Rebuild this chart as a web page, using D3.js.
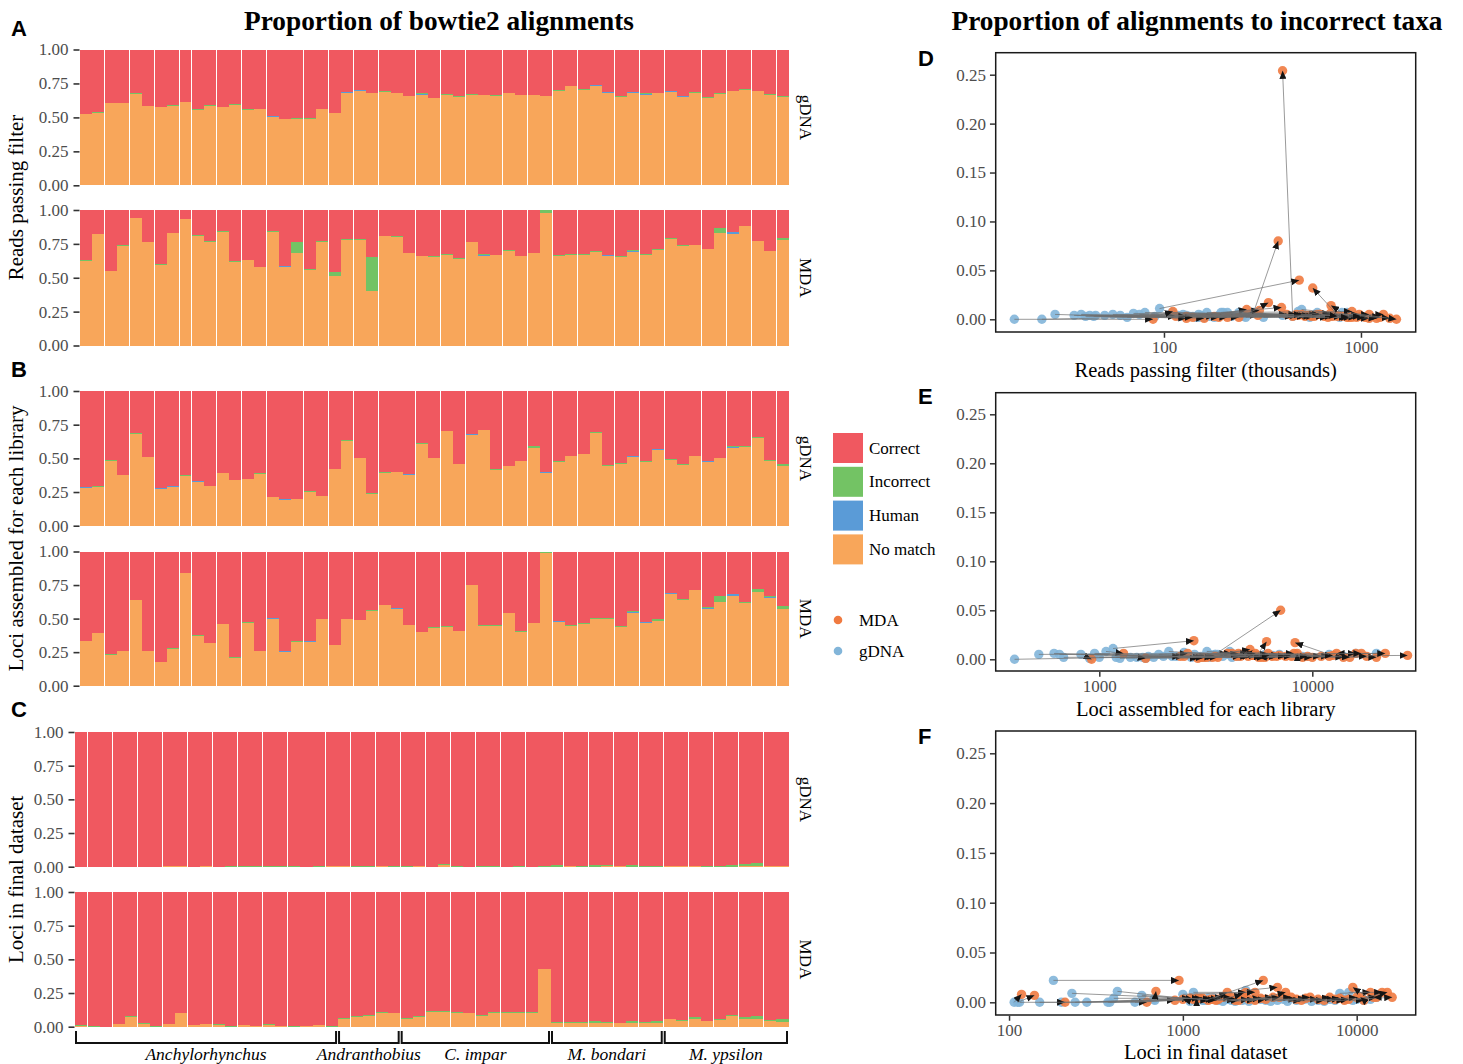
<!DOCTYPE html>
<html><head><meta charset="utf-8">
<script src="https://cdn.jsdelivr.net/npm/d3@7"></script>
<style>
body{margin:0;background:#fff}
svg text{font-family:"Liberation Serif","Times New Roman",serif}
</style>
</head><body>
<svg id="c" width="1463" height="1064"></svg>
<script>
// ---------- categories ----------
const genera = ["Anchylorhynchus","Andranthobius","C. impar","M. bondari","M. ypsilon"];
const generaCounts = [21,5,12,9,10];
const fillKeys = ["nomatch","human","incorrect","correct"];
const fillLabels = ["Correct","Incorrect","Human","No match"];
const yTickValues = [0,0.25,0.5,0.75,1];
const scatterYTicks = [0,0.05,0.10,0.15,0.20,0.25];

// ---------- A: reads passing filter ----------
const aGdnaNoMatch = [0.525,0.532,0.605,0.605,0.672,0.583,0.576,0.586,0.613,0.556,
 0.586,0.576,0.590,0.554,0.561,0.502,0.488,0.488,0.488,0.561,
 0.532,0.679,0.694,0.679,0.686,0.679,0.657,0.664,0.642,0.664,
 0.650,0.664,0.664,0.657,0.679,0.664,0.664,0.657,0.694,0.730,
 0.700,0.730,0.679,0.650,0.679,0.664,0.679,0.686,0.650,0.679,
 0.642,0.672,0.694,0.700,0.694,0.664,0.650];
const aGdnaHuman = [0,0,0,0,0,0,0,0,0,0,
 0,0,0,0,0,0.008,0,0,0,0,
 0,0.007,0.007,0,0,0,0,0.008,0,0,
 0,0,0,0,0,0,0,0,0,0,
 0,0.007,0.007,0,0.007,0.010,0,0.007,0.007,0,
 0,0,0,0,0,0,0];
const aGdnaIncorrect = [0.002,0.005,0.004,0.003,0.005,0,0,0.004,0.004,0.005,
 0.004,0.003,0.006,0.005,0.004,0.002,0.003,0.007,0.007,0.004,
 0.002,0.003,0.002,0.003,0.007,0.003,0.003,0.004,0.002,0.007,
 0.005,0.007,0.004,0.005,0.003,0.002,0.004,0.003,0.007,0.003,
 0.007,0.004,0.003,0.007,0.002,0.004,0.003,0.002,0.004,0.010,
 0.007,0.011,0.003,0.007,0.002,0.008,0.007];
const aMdaNoMatch = [0.620,0.820,0.550,0.735,0.940,0.765,0.595,0.830,0.930,0.810,
 0.765,0.840,0.615,0.630,0.580,0.840,0.578,0.683,0.560,0.765,
 0.513,0.780,0.775,0.400,0.805,0.800,0.680,0.660,0.655,0.670,
 0.640,0.765,0.660,0.665,0.700,0.660,0.680,0.980,0.660,0.670,
 0.665,0.690,0.660,0.655,0.690,0.670,0.705,0.785,0.735,0.740,
 0.710,0.830,0.825,0.880,0.770,0.695,0.780];
const aMdaHuman = [0,0,0,0,0,0,0,0,0,0,
 0,0,0,0,0,0,0.009,0,0,0,
 0,0,0.005,0,0,0,0,0,0,0,
 0,0,0.005,0,0,0,0,0,0,0,
 0,0,0.005,0,0.010,0,0,0,0,0,
 0,0,0.010,0,0,0,0];
const aMdaIncorrect = [0.010,0.003,0.002,0.004,0.001,0,0.003,0.002,0.001,0.004,
 0.003,0.002,0.005,0.004,0.003,0.006,0.002,0.080,0.005,0.003,
 0.032,0.005,0.004,0.254,0.003,0.008,0.002,0.001,0.003,0.002,
 0.004,0.001,0.009,0.003,0.002,0.004,0.002,0.017,0.005,0.003,
 0.012,0.005,0.002,0.008,0.005,0.003,0.005,0.005,0.005,0.002,
 0.001,0.040,0.003,0,0.002,0.003,0.014];

// ---------- B: loci assembled ----------
const bGdnaNoMatch = [0.280,0.290,0.480,0.375,0.680,0.510,0.270,0.285,0.370,0.325,
 0.295,0.390,0.340,0.345,0.385,0.210,0.190,0.195,0.250,0.220,
 0.420,0.630,0.500,0.235,0.390,0.395,0.375,0.610,0.500,0.700,
 0.455,0.670,0.710,0.415,0.440,0.480,0.580,0.390,0.470,0.515,
 0.530,0.685,0.445,0.460,0.510,0.475,0.560,0.485,0.450,0.515,
 0.470,0.500,0.575,0.585,0.650,0.480,0.440];
const bGdnaHuman = [0.008,0,0,0,0,0,0.008,0.008,0,0.006,
 0,0,0,0,0,0,0.007,0,0,0,
 0,0,0,0,0,0,0.009,0,0,0,
 0,0.009,0,0,0,0,0,0.009,0,0,
 0,0.006,0,0,0.006,0,0.006,0.005,0,0,
 0.008,0,0.009,0,0,0,0.005];
const bGdnaIncorrect = [0.002,0.006,0.008,0.002,0.005,0.003,0.001,0.002,0.003,0.002,
 0.001,0.003,0.002,0.001,0.005,0.005,0,0.005,0.005,0.002,
 0.003,0.004,0.002,0.006,0.007,0.003,0.002,0.004,0.005,0.003,
 0.002,0.004,0.003,0.005,0.002,0.003,0.008,0.002,0.008,0.003,
 0.002,0.004,0.005,0.005,0.003,0.005,0.004,0.003,0.008,0.005,
 0.005,0.005,0.006,0.006,0.005,0.005,0.011];
const bMdaNoMatch = [0.330,0.390,0.230,0.260,0.635,0.260,0.180,0.275,0.840,0.370,
 0.315,0.460,0.210,0.470,0.255,0.495,0.250,0.325,0.325,0.495,
 0.300,0.495,0.490,0.560,0.600,0.570,0.450,0.400,0.430,0.440,
 0.405,0.750,0.445,0.445,0.540,0.400,0.465,0.990,0.475,0.445,
 0.460,0.500,0.500,0.435,0.545,0.465,0.480,0.685,0.635,0.710,
 0.575,0.620,0.670,0.615,0.700,0.650,0.575];
const bMdaHuman = [0,0,0,0,0,0,0,0,0,0,
 0,0,0,0,0,0.007,0.008,0,0.006,0,
 0,0,0,0,0,0.007,0,0,0,0,
 0,0,0,0,0,0,0,0,0.006,0,
 0,0,0,0,0.006,0.009,0,0.006,0.006,0,
 0.006,0,0.010,0,0,0.010,0];
const bMdaIncorrect = [0.003,0.002,0.006,0.001,0.003,0.002,0,0.003,0.002,0.006,
 0.002,0.003,0.001,0.004,0.006,0.002,0.003,0.006,0.002,0.003,
 0.002,0.004,0.003,0.002,0.003,0.002,0.004,0.003,0.006,0.002,
 0.003,0.002,0.006,0.004,0.003,0.006,0.002,0.004,0.003,0.006,
 0.006,0.006,0.006,0.010,0.003,0.004,0.018,0.003,0.002,0.006,
 0.004,0.050,0.006,0.006,0.017,0.006,0.019];

// ---------- C: loci in final dataset ----------
const cGdnaNoMatch = [0,0,0,0,0,0,0,0.004,0.004,0,
 0.004,0,0,0,0,0,0,0,0,0,
 0.004,0.004,0,0,0.004,0,0,0.004,0,0.015,
 0,0,0,0,0,0,0,0,0,0.004,
 0,0,0.004,0.004,0,0,0,0.004,0.004,0.004,
 0,0,0,0.005,0.005,0.005,0.005];
const cGdnaHuman = [0,0,0,0,0,0,0,0,0,0,
 0,0,0,0,0,0,0,0,0,0,
 0,0,0,0,0,0,0,0,0,0,
 0,0,0,0,0,0,0,0,0,0,
 0,0,0,0,0,0,0,0,0,0,
 0,0,0,0,0,0,0];
const cGdnaIncorrect = [0,0,0,0,0,0,0,0,0,0,
 0.003,0.001,0.003,0.002,0.004,0.004,0.004,0.002,0.001,0.003,
 0.002,0.001,0.003,0.002,0.001,0.003,0.003,0.002,0.001,0.002,
 0.003,0.001,0.002,0.003,0.001,0.002,0.001,0.003,0.011,0.002,
 0.004,0.009,0.009,0.003,0.010,0.007,0.002,0.003,0.002,0.003,
 0.005,0.008,0.010,0.012,0.022,0.002,0.002];
const cMdaNoMatch = [0.005,0,0,0.020,0.075,0.020,0,0.020,0.100,0.010,
 0.020,0.015,0,0.010,0.005,0.010,0.005,0,0.005,0.010,
 0,0.060,0.075,0.080,0.100,0.100,0.060,0.075,0.110,0.110,
 0.105,0.100,0.080,0.105,0.105,0.105,0.105,0.425,0.030,0.030,
 0.030,0.030,0.030,0.025,0.030,0.030,0.030,0.055,0.045,0.055,
 0.040,0.050,0.080,0.055,0.055,0.040,0.035];
const cMdaHuman = [0,0,0,0,0,0,0,0,0,0,
 0,0,0,0,0,0,0,0,0,0,
 0,0,0,0,0,0,0,0,0,0,
 0,0,0,0,0,0,0,0,0,0,
 0,0,0,0,0,0,0,0,0,0,
 0,0,0,0,0,0,0];
const cMdaIncorrect = [0.008,0.007,0,0,0.002,0.004,0.004,0.003,0.005,0.005,
 0.002,0.003,0.004,0.002,0.003,0.010,0.002,0.008,0.003,0.002,
 0.004,0.003,0.005,0.005,0.010,0.005,0.003,0.002,0.004,0.005,
 0.003,0.002,0.005,0.003,0.004,0.002,0.003,0.005,0.003,0.002,
 0.004,0.010,0.003,0.005,0.010,0.002,0.010,0.005,0.005,0.015,
 0.005,0.010,0.010,0.015,0.022,0.011,0.022];

// ---------- scatter x values ----------
const dGdnaReads = [150,38,45,120,28,17.4,24,42,35,55, 60,40,70,75,50,65,44,285,80,130,
 780,140,160,450,110,90,170,190,180,200, 150,210,115,125,135,145,155,250,165,185,
 195,205,220,240,260,118,128,320,400,500, 600,95,700,850,550,480,800];
const dMdaReads = [263,180,210,520,130,88,115,240,160,300, 450,190,620,550,130,700,140,380,420,520,
 569,600,480,400,650,111,900,1100,800,950, 750,1200,305,580,680,530,850,339,470,560,
 395,620,1050,900,1300,720,500,980,1100,1250, 1400,486,1000,1514,870,760,705];
const eGdnaLoci = [1200,613,1075,1600,7000,3000,900,1000,1700,1400, 1250,2000,1500,1650,1900,650,400,520,820,680,
 2300,6500,3300,950,2500,2200,1800,6000,3500,9000, 3100,8000,9500,2800,3000,3400,2120,2700,3200,3800,
 4200,8500,3300,3600,4500,4000,5500,14000,4100,5200, 4400,3500,16000,20000,12000,6000,1160];
const eMdaLoci = [2500,3000,1300,2900,12000,3200,920,3500,20000,4000, 3100,5000,1650,5500,2600,6000,2400,4200,3600,6500,
 3400,7000,6800,9000,11000,10000,5200,4400,5000,5600, 4600,14000,4800,5300,8000,4500,5800,28000,7500,5400,
 6200,8500,8200,5100,9500,6300,6100,18000,15000,22000, 12500,7100,16000,13000,8300,17000,2780];
const fGdnaLoci = [107,112,115,150,200,240,280,370,380,530, 680,1100,1200,1300,1400,1500,1250,1600,1700,1800,
 1900,2000,2100,2200,2400,2600,2800,3000,3200,3500, 3800,4000,4500,5000,5500,6000,6500,7000,420,7500,
 400,8000,230,8500,9000,580,9500,10000,11000,12000, 13000,1000,1150,2300,180,690,1350];
const fMdaLoci = [118,140,210,620,900,1100,1300,1500,1700,1900, 2100,1000,1200,1400,1600,1800,2000,2200,2400,2600,
 2800,3000,3300,3600,3900,4200,4500,4800,5100,5400, 6000,6500,7000,7500,8000,8500,9000,10000,1150,11000,
 1250,12000,1450,13000,14000,1550,15000,16000,10500,9500, 12500,2300,2600,3500,950,700,2900];

// ---------- drawing ----------
const svg = d3.select("#c");
const col = {nomatch:"#F8A65A", human:"#5A9BD7", incorrect:"#73C364", correct:"#F05860"};
const legendColors = [col.correct, col.incorrect, col.human, col.nomatch];
const ptCol = {MDA:"#F07A40", gDNA:"#82B5D9"};
const nBars = aGdnaNoMatch.length;
const idx = d3.range(nBars);
const ptR = 4.7;

// titles
svg.append("text").attr("x",439).attr("y",30).attr("text-anchor","middle")
  .attr("font-size",27.3).attr("font-weight","bold").text("Proportion of bowtie2 alignments");
svg.append("text").attr("x",1197).attr("y",30).attr("text-anchor","middle")
  .attr("font-size",27.3).attr("font-weight","bold").text("Proportion of alignments to incorrect taxa");

function letter(t,x,y){
  svg.append("text").attr("x",x).attr("y",y).attr("font-size",22).attr("font-weight","bold")
    .style("font-family","'Liberation Sans',Arial,sans-serif").text(t);
}
letter("A",11,36); letter("B",11,377); letter("C",11,717);
letter("D",918,66); letter("E",918,404); letter("F",918,744);

const panels = [
  {nm:aGdnaNoMatch, hu:aGdnaHuman, ic:aGdnaIncorrect, y1:49.5, y0:185.3, x0:80, strip:"gDNA"},
  {nm:aMdaNoMatch,  hu:aMdaHuman,  ic:aMdaIncorrect,  y1:210,  y0:345.5, x0:80, strip:"MDA"},
  {nm:bGdnaNoMatch, hu:bGdnaHuman, ic:bGdnaIncorrect, y1:391,  y0:525.7, x0:80, strip:"gDNA"},
  {nm:bMdaNoMatch,  hu:bMdaHuman,  ic:bMdaIncorrect,  y1:551.5,y0:685.7, x0:80, strip:"MDA"},
  {nm:cGdnaNoMatch, hu:cGdnaHuman, ic:cGdnaIncorrect, y1:732,  y0:866.7, x0:75, strip:"gDNA"},
  {nm:cMdaNoMatch,  hu:cMdaHuman,  ic:cMdaIncorrect,  y1:892,  y0:1026.7,x0:75, strip:"MDA"}
];
const xRight = 789;
let lastX = null;
panels.forEach(p => {
  const x = d3.scaleBand().domain(idx).range([p.x0, xRight]).padding(0);
  const y = d3.scaleLinear().domain([0,1]).range([p.y0, p.y1]);
  const rows = idx.map(i => ({nomatch:p.nm[i], human:p.hu[i], incorrect:p.ic[i],
     correct: 1 - p.nm[i] - p.hu[i] - p.ic[i]}));
  const series = d3.stack().keys(fillKeys)(rows);
  const g = svg.append("g");
  series.forEach(s => {
    g.selectAll(null).data(s).enter().append("rect")
      .attr("x",(d,i)=>x(i)).attr("width",x.bandwidth()-0.45)
      .attr("y",d=>y(d[1])).attr("height",d=>Math.max(0,y(d[0])-y(d[1])))
      .attr("fill",col[s.key]).attr("shape-rendering","crispEdges");
  });
  const ax = svg.append("g").attr("transform",`translate(${p.x0-0.5},0)`)
    .call(d3.axisLeft(y).tickValues(yTickValues).tickFormat(d3.format(".2f")).tickSize(6).tickPadding(5));
  ax.select(".domain").remove();
  ax.selectAll(".tick line").attr("stroke","#333").attr("stroke-width",1.6);
  ax.selectAll(".tick text").attr("font-size",17).attr("fill","#4d4d4d")
    .style("font-family","'Liberation Serif',serif");
  const cy = (p.y0+p.y1)/2;
  svg.append("text").attr("transform",`translate(805,${cy}) rotate(90)`)
    .attr("text-anchor","middle").attr("dominant-baseline","central")
    .attr("font-size",17).text(p.strip);
  lastX = x;
});

// left y titles
[["Reads passing filter",(49.5+345.5)/2],["Loci assembled for each library",(391+685.7)/2],
 ["Loci in final dataset",(732+1026.7)/2]].forEach(([t,cy])=>{
  svg.append("text").attr("transform",`translate(23,${cy}) rotate(-90)`)
    .attr("text-anchor","middle").attr("font-size",21).text(t);
});

// genus brackets
let start = 0;
genera.forEach((gname,k)=>{
  const end = start + generaCounts[k];
  const xa = lastX(start) + 1, xb = lastX(end-1) + lastX.bandwidth() - 2;
  svg.append("path").attr("d",`M${xa},1031V1043H${xb}V1031`)
    .attr("fill","none").attr("stroke","#111").attr("stroke-width",2);
  svg.append("text").attr("x",(xa+xb)/2).attr("y",1060).attr("text-anchor","middle")
    .attr("font-size",17.5).attr("font-style","italic").text(gname);
  start = end;
});

// legend (fill)
fillLabels.forEach((t,i)=>{
  const yy = 433 + i*33.8;
  svg.append("rect").attr("x",833).attr("y",yy).attr("width",30).attr("height",30).attr("fill",legendColors[i]);
  svg.append("text").attr("x",869).attr("y",yy+15).attr("dominant-baseline","central")
    .attr("font-size",17).text(t);
});
// legend (points)
[["MDA",620],["gDNA",651]].forEach(([t,yy])=>{
  svg.append("circle").attr("cx",838).attr("cy",yy).attr("r",4.3).attr("fill",ptCol[t]);
  svg.append("text").attr("x",859).attr("y",yy).attr("dominant-baseline","central")
    .attr("font-size",17).text(t);
});

// arrow marker
svg.append("defs").append("marker").attr("id","arr").attr("markerUnits","userSpaceOnUse")
  .attr("markerWidth",9).attr("markerHeight",7).attr("refX",8).attr("refY",3.5)
  .attr("orient","auto").append("path").attr("d","M0,0L8,3.5L0,7Z").attr("fill","#151515");

// scatter panels
const scat = [
  {dom:[13.99,1896], ticks:[100,1000], y0:319.3, y25:74.7, top:52.7, bot:332,
   gx:dGdnaReads, mx:dMdaReads, gy:aGdnaIncorrect, my:aMdaIncorrect,
   title:"Reads passing filter (thousands)", tY:377},
  {dom:[326.3,30580], ticks:[1000,10000], y0:659.3, y25:414.3, top:392.7, bot:671,
   gx:eGdnaLoci, mx:eMdaLoci, gy:bGdnaIncorrect, my:bMdaIncorrect,
   title:"Loci assembled for each library", tY:716},
  {dom:[83.8,21850], ticks:[100,1000,10000], y0:1002.3, y25:753.3, top:731, bot:1015,
   gx:fGdnaLoci, mx:fMdaLoci, gy:cGdnaIncorrect, my:cMdaIncorrect,
   title:"Loci in final dataset", tY:1059}
];
const fx0 = 995.7, fx1 = 1415.7;
scat.forEach(s=>{
  const x = d3.scaleLog().domain(s.dom).range([fx0,fx1]);
  const y = d3.scaleLinear().domain([0,0.25]).range([s.y0,s.y25]);
  const g = svg.append("g");
  g.selectAll(null).data(idx).enter().append("circle")
    .attr("cx",i=>x(s.gx[i])).attr("cy",i=>y(s.gy[i])).attr("r",ptR)
    .attr("fill",ptCol.gDNA).attr("fill-opacity",0.9);
  g.selectAll(null).data(idx).enter().append("circle")
    .attr("cx",i=>x(s.mx[i])).attr("cy",i=>y(s.my[i])).attr("r",ptR)
    .attr("fill",ptCol.MDA).attr("fill-opacity",0.9);
  g.selectAll(null).data(idx).enter().append("line")
    .attr("x1",i=>x(s.gx[i])).attr("y1",i=>y(s.gy[i]))
    .attr("x2",i=>x(s.mx[i])).attr("y2",i=>y(s.my[i]))
    .attr("stroke","#6e6e6e").attr("stroke-width",0.7).attr("marker-end","url(#arr)");
  svg.append("rect").attr("x",fx0).attr("y",s.top).attr("width",fx1-fx0).attr("height",s.bot-s.top)
    .attr("fill","none").attr("stroke","#1a1a1a").attr("stroke-width",1.5);
  const ay = svg.append("g").attr("transform",`translate(${fx0-0.75},0)`)
    .call(d3.axisLeft(y).tickValues(scatterYTicks).tickFormat(d3.format(".2f")).tickSize(5).tickPadding(4));
  const axx = svg.append("g").attr("transform",`translate(0,${s.bot+0.75})`)
    .call(d3.axisBottom(x).tickValues(s.ticks).tickFormat(d3.format("d")).tickSize(5).tickPadding(3));
  [ay,axx].forEach(a=>{
    a.select(".domain").remove();
    a.selectAll(".tick line").attr("stroke","#333").attr("stroke-width",1.5);
    a.selectAll(".tick text").attr("font-size",17).attr("fill","#4d4d4d")
      .style("font-family","'Liberation Serif',serif");
  });
  svg.append("text").attr("x",(fx0+fx1)/2).attr("y",s.tY).attr("text-anchor","middle")
    .attr("font-size",20.5).text(s.title);
});
</script>
</body></html>
